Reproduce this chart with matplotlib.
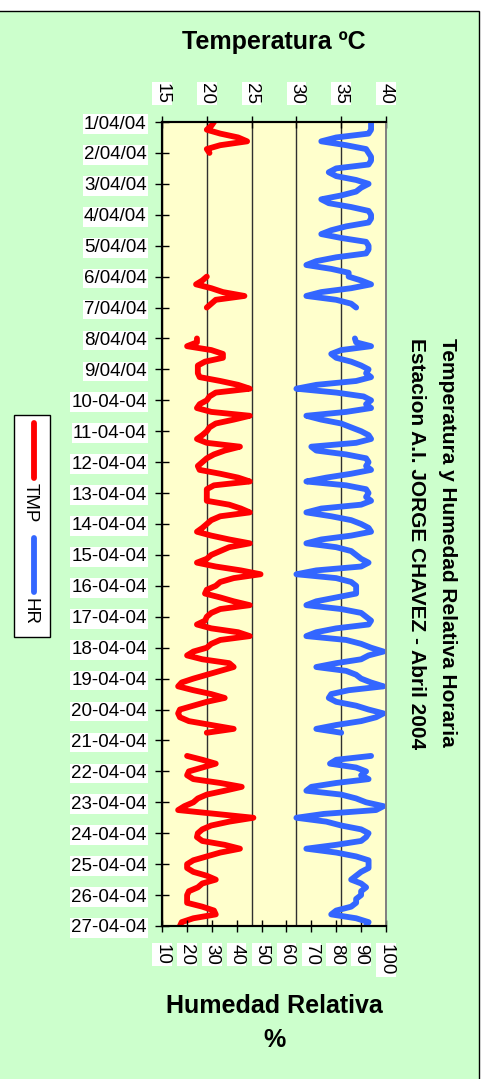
"""Temperatura y Humedad Relativa horaria - Jorge Chavez, abril 2004"""
import numpy as np
import matplotlib
matplotlib.use("Agg")
import matplotlib.pyplot as plt
from matplotlib.patches import Rectangle
from matplotlib.lines import Line2D

plt.rcParams['font.family'] = ['Liberation Sans', 'DejaVu Sans']

nan = np.nan

# 3-hourly readings (00, 03, ... 21 h), one row per day, 1/04 .. 26/04
tmp_days = [
    [20.8, 20.5, 20.0, 21.5, 23.5, 24.5, 21.5, 20.0],
    [20.3, nan, nan, nan, nan, nan, nan, nan],
    [nan, nan, nan, nan, nan, nan, nan, nan],
    [nan, nan, nan, nan, nan, nan, nan, nan],
    [nan, nan, nan, nan, nan, nan, nan, nan],
    [20.0, 19.5, 18.8, 20.5, 21.8, 24.2, 21.0, 20.5],
    [20.0, nan, nan, nan, nan, nan, nan, nan],
    [18.9, 18.9, 17.8, 20.5, 21.8, 21.8, 19.8, 19.0],
    [19.0, 19.0, 19.2, 21.5, 23.5, 24.8, 21.0, 20.3],
    [20.0, 19.2, 18.9, 20.5, 24.8, 23.0, 21.0, 20.3],
    [20.0, 19.5, 18.9, 20.0, 23.7, 22.0, 20.8, 20.0],
    [19.5, 19.0, 19.2, 21.5, 23.5, 24.8, 20.8, 20.0],
    [20.0, 20.0, 20.0, 22.5, 23.8, 24.8, 21.5, 20.5],
    [20.0, 19.5, 18.9, 20.5, 22.5, 24.8, 22.5, 21.5],
    [20.5, 20.0, 18.9, 21.0, 23.8, 26.0, 23.0, 21.5],
    [21.0, 20.0, 19.8, 21.5, 23.0, 24.8, 21.5, 20.5],
    [20.0, 19.8, 18.9, 20.5, 23.5, 24.8, 21.5, 20.5],
    [20.0, 18.5, 17.8, 19.5, 22.5, 23.0, 21.5, 20.0],
    [18.5, 17.2, 16.8, 18.5, 20.5, 22.0, 20.0, 18.5],
    [17.0, 16.8, 17.0, 18.0, 20.5, 23.0, 20.0, nan],
    [nan, nan, nan, nan, 17.8, 19.5, 21.0, 19.5],
    [18.0, 17.8, 18.5, 21.5, 23.9, 22.0, 20.0, 19.0],
    [18.5, 17.5, 16.8, 21.0, 25.2, 22.5, 20.5, 19.5],
    [19.0, 18.9, 19.5, 22.0, 23.7, 21.5, 20.0, 18.5],
    [17.8, 17.8, 18.5, 20.0, 21.0, 19.5, 19.0, 18.0],
    [17.8, 17.8, 17.8, 19.5, 20.8, 21.0, 18.5, 17.2],
]
tmp_end = 17.0

hr_days = [
    [94, 94, 94, 93, 80, 74, 84, 92],
    [93, 94, 94, 93, 80, 77, 80, 88],
    [93, 90, 88, 82, 74, 77, 86, 93],
    [94, 94, 93, 84, 78, 74, 82, 92],
    [93, 93, 92, 80, 72, 68, 78, 85],
    [85, 90, 94, 86, 74, 68, 80, 86],
    [88, nan, nan, nan, nan, nan, nan, nan],
    [87.5, 88, 94, 82, 78, 80, 86, 90],
    [93, 92, 94, 88, 72, 64, 80, 91],
    [94, 92, 94, 84, 68, 74, 82, 86],
    [90, 93, 94, 88, 70, 72, 84, 92],
    [93, 92, 94, 86, 76, 68, 84, 92],
    [93, 92, 94, 90, 74, 68, 78, 86],
    [90, 93, 94, 86, 74, 68, 80, 86],
    [88, 90, 93, 90, 72, 64, 80, 86],
    [88, 88, 88, 80, 72, 68, 82, 90],
    [92, 94, 93, 80, 72, 68, 84, 90],
    [94, 99, 93, 90, 80, 72, 84, 88],
    [90, 94, 99, 85, 78, 77, 80, 88],
    [93, 99, 96, 90, 80, 72, 82, nan],
    [nan, nan, nan, nan, 94, 80, 77.5, 88],
    [92, 90, 93, 80, 70, 68, 82, 88],
    [92, 99, 96, 75, 64, 76, 82, 90],
    [93, 92, 90, 80, 68, 80, 88, 93],
    [93, 93, 90, 88, 86, 90, 92, 90],
    [90, 88, 88, 86, 80, 78, 88, 93],
]
hr_end = 92

date_labels = ['%d/04/04' % d if d < 10 else '%d-04-04' % d for d in range(1, 28)]
tmp_ticks = [15, 20, 25, 30, 35, 40]
hr_ticks = [10, 20, 30, 40, 50, 60, 70, 80, 90, 100]

tmp = np.array([v for day in tmp_days for v in day] + [tmp_end], dtype=float)
hr = np.array([v for day in hr_days for v in day] + [hr_end], dtype=float)
hours = np.arange(len(tmp)) * 3

W, H = 483, 1079
fig = plt.figure(figsize=(W / 100, H / 100), dpi=100)
fig.patch.set_facecolor('white')
fig.patches.append(Rectangle((-0.01, -0.01), 479 / W + 0.01, 1 - 11 / H + 0.01,
                             transform=fig.transFigure, facecolor='#CCFFCC',
                             edgecolor='black', lw=1, zorder=-10))

ax = fig.add_axes([162 / W, 1 - 926 / H, 224 / W, 804 / H])
ax2 = ax.twiny()
ax.set_facecolor('#FFFFCC')

# temperature: top axis
ax.plot(tmp, hours, color='#FF0000', lw=4.2, solid_capstyle='round',
        solid_joinstyle='round')
ax.set_xlim(15, 40)
ax.set_ylim(624, 0)
ax.xaxis.tick_top()
ax.set_xticks(tmp_ticks)
ax.set_xticklabels([str(t) for t in tmp_ticks], rotation=-90, va='bottom')
ax.set_yticks(np.arange(0, 625, 24))
ax.set_yticklabels(date_labels)
ax.grid(True, axis='x', color='#303030', lw=1)
ax.tick_params(axis='x', direction='inout', length=8, width=1, labelsize=13.5, pad=9)
ax.tick_params(axis='y', direction='inout', length=10, width=1, labelsize=13.5, pad=6)
for lbl in ax.get_xticklabels() + ax.get_yticklabels():
    lbl.set_bbox(dict(facecolor='white', edgecolor='none', pad=1))

# relative humidity: bottom axis
ax2.plot(hr, hours, color='#3366FF', lw=4.2, solid_capstyle='round',
         solid_joinstyle='round')
ax2.set_xlim(10, 100)
ax2.xaxis.tick_bottom()
ax2.set_xticks(hr_ticks)
ax2.set_xticklabels([str(t) for t in hr_ticks], rotation=-90, va='top')
ax2.tick_params(axis='x', direction='inout', length=8, width=1, labelsize=13.5, pad=9)
for lbl in ax2.get_xticklabels():
    lbl.set_bbox(dict(facecolor='white', edgecolor='none', pad=1))

for a in (ax, ax2):
    for side in ('left', 'top', 'bottom'):
        a.spines[side].set_color('black')
        a.spines[side].set_linewidth(1.5)
    a.spines['right'].set_color('#808080')
    a.spines['right'].set_linewidth(1.2)

fig.text(274 / W, 1 - 42 / H, 'Temperatura ºC', ha='center', va='center',
         fontsize=18, fontweight='bold')
fig.text(274 / W, 1 - 1006 / H, 'Humedad Relativa', ha='center', va='center',
         fontsize=18, fontweight='bold')
fig.text(274 / W, 1 - 1040 / H, '%', ha='center', va='center',
         fontsize=18, fontweight='bold')
fig.text(447 / W, 1 - 338 / H, 'Temperatura y Humedad Relativa Horaria',
         rotation=-90, ha='center', va='top', fontsize=15, fontweight='bold')
fig.text(416 / W, 1 - 338 / H, 'Estacion A.I. JORGE CHAVEZ - Abril 2004',
         rotation=-90, ha='center', va='top', fontsize=15, fontweight='bold')

# legend, drawn by hand because it is rotated
fig.patches.append(Rectangle((14 / W, 1 - 637 / H), 36 / W, 222 / H,
                             transform=fig.transFigure, facecolor='white',
                             edgecolor='black', lw=1))
fig.lines.append(Line2D([34 / W, 34 / W], [1 - 423 / H, 1 - 478 / H],
                        transform=fig.transFigure, color='#FF0000', lw=4.2,
                        solid_capstyle='round'))
fig.lines.append(Line2D([34 / W, 34 / W], [1 - 538 / H, 1 - 592 / H],
                        transform=fig.transFigure, color='#3366FF', lw=4.2,
                        solid_capstyle='round'))
fig.text(30 / W, 1 - 483 / H, 'TMP', rotation=-90, ha='center', va='top', fontsize=13.5)
fig.text(30 / W, 1 - 598 / H, 'HR', rotation=-90, ha='center', va='top', fontsize=13.5)

fig.savefig('out.png', dpi=100)
